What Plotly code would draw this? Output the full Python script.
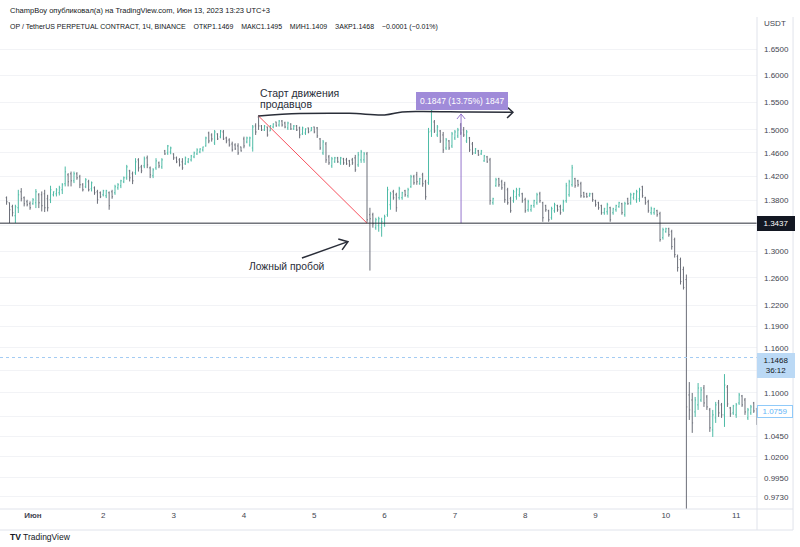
import math
import pandas as pd
import plotly.graph_objects as go

# ---------------- data (hourly OHLC, OP/USDT perpetual, Binance) ----------------
BAR_START = "2023-05-31 15:00"

opens = [
1.3846,1.3764,1.3700,1.3555,1.3683,1.3943,1.3846,1.3780,1.3748,1.3748,
1.3764,1.3894,1.3894,1.3910,1.3829,1.3813,1.3894,1.3910,1.3927,1.3976,
1.4076,1.4225,1.4242,1.4125,1.4242,1.4192,1.4059,1.4026,1.4109,1.3993,
1.4009,1.3943,1.3927,1.3894,1.3878,1.3927,1.3943,1.3927,1.4009,1.4043,
1.4109,1.4175,1.4292,1.4242,1.4259,1.4478,1.4359,1.4376,1.4512,1.4342,
1.4209,1.4342,1.4427,1.4359,1.4632,1.4597,1.4614,1.4580,1.4512,1.4478,
1.4444,1.4410,1.4444,1.4478,1.4529,1.4580,1.4614,1.4649,1.4718,1.4945,
1.4910,1.4770,1.4928,1.4875,1.4963,1.4857,1.4822,1.4752,1.4735,1.4718,
1.4700,1.4840,1.4787,1.4735,1.4683,1.5069,1.5229,1.5069,1.4998,1.5051,
1.4980,1.5051,1.5140,1.5086,1.5157,1.5122,1.5034,1.5104,1.5016,1.5069,
1.5034,1.4928,1.4945,1.5034,1.4980,1.5051,1.5034,1.4840,1.4597,1.4752,
1.4529,1.4376,1.4444,1.4512,1.4427,1.4495,1.4478,1.4461,1.4478,1.4512,
1.4393,1.4478,1.4478,1.4580,1.3571,1.3571,1.3365,1.3396,1.3365,1.3428,
1.3571,1.3732,1.3943,1.3894,1.3846,1.3846,1.3960,1.3878,1.4026,1.4192,
1.4225,1.4076,1.4225,1.4109,1.4092,1.4980,1.5140,1.4910,1.4980,1.4910,
1.4683,1.4805,1.4718,1.4857,1.4893,1.5086,1.4998,1.4805,1.4857,1.4752,
1.4597,1.4632,1.4580,1.4461,1.4529,1.4478,1.3764,1.4043,1.4159,1.4109,
1.4059,1.3976,1.3829,1.3797,1.3862,1.3894,1.3910,1.3813,1.3651,1.3651,
1.3716,1.3764,1.3910,1.3764,1.3716,1.3635,1.3523,1.3635,1.3716,1.3700,
1.3651,1.3797,1.3894,1.4059,1.4159,1.4125,1.4076,1.3927,1.3910,1.3878,
1.3910,1.3797,1.3764,1.3716,1.3603,1.3619,1.3683,1.3603,1.3651,1.3700,
1.3748,1.3571,1.3829,1.3764,1.3846,1.3813,1.3829,1.4026,1.3846,1.3780,
1.3603,1.3603,1.3635,1.3587,1.3209,1.3302,1.3349,1.3302,1.3178,1.2918,
1.2872,1.2721,1.2572,1.0973,1.0908,1.0755,1.0845,1.0908,1.1063,1.0947,
1.0781,1.0530,1.0680,1.0870,1.0845,1.0718,1.1076,1.0806,1.0743,1.0718,
1.0870,1.0960,1.0908,1.0680,1.0743,1.0870,1.0794]

highs = [
1.3867,1.3769,1.3732,1.3732,1.3976,1.4004,1.3867,1.3813,1.3786,1.3840,
1.3988,1.3921,1.3949,1.3976,1.3894,1.4043,1.3949,1.4004,1.4043,1.4087,
1.4365,1.4253,1.4280,1.4280,1.4270,1.4225,1.4087,1.4170,1.4142,1.4114,
1.4032,1.3976,1.3949,1.3976,1.3976,1.3949,1.3976,1.4059,1.4087,1.4142,
1.4197,1.4393,1.4309,1.4280,1.4507,1.4507,1.4393,1.4535,1.4552,1.4365,
1.4337,1.4507,1.4450,1.4507,1.4649,1.4735,1.4706,1.4592,1.4535,1.4507,
1.4507,1.4535,1.4507,1.4563,1.4620,1.4677,1.4677,1.4706,1.4880,1.4968,
1.4939,1.4998,1.4939,1.4998,1.4998,1.4880,1.4851,1.4793,1.4764,1.4764,
1.4706,1.4880,1.4880,1.4880,1.5086,1.5116,1.5265,1.5086,1.5086,1.5057,
1.5086,1.5116,1.5145,1.5175,1.5175,1.5145,1.5145,1.5116,1.5086,1.5086,
1.5057,1.5057,1.5028,1.5040,1.5051,1.5057,1.5051,1.4857,1.4822,1.4787,
1.4563,1.4529,1.4529,1.4529,1.4529,1.4512,1.4512,1.4478,1.4512,1.4563,
1.4614,1.4649,1.4614,1.4614,1.3683,1.3603,1.3523,1.3539,1.3523,1.3571,
1.4026,1.3943,1.3976,1.3927,1.4026,1.3943,1.3976,1.4009,1.4225,1.4225,
1.4275,1.4175,1.4259,1.4142,1.5034,1.5506,1.5175,1.5086,1.4998,1.4963,
1.4857,1.4822,1.4963,1.4998,1.5034,1.5122,1.5051,1.4998,1.4875,1.4787,
1.4683,1.4649,1.4649,1.4563,1.4546,1.4512,1.3846,1.4175,1.4175,1.4142,
1.4109,1.4009,1.3862,1.3976,1.4009,1.4009,1.3927,1.3846,1.3813,1.3732,
1.3813,1.3927,1.3943,1.3780,1.3732,1.3651,1.3700,1.3764,1.3732,1.3732,
1.3813,1.4092,1.4142,1.4393,1.4175,1.4142,1.4109,1.3943,1.3927,1.3927,
1.3927,1.3813,1.3780,1.3732,1.3683,1.3764,1.3700,1.3683,1.3732,1.3780,
1.3764,1.3780,1.3846,1.3927,1.3927,1.3976,1.4009,1.4043,1.3862,1.3813,
1.3700,1.3683,1.3651,1.3619,1.3365,1.3365,1.3365,1.3333,1.3209,1.2948,
1.2902,1.2766,1.2647,1.1141,1.0999,1.0947,1.1128,1.1076,1.1102,1.0973,
1.0806,1.0781,1.0883,1.0908,1.0870,1.1246,1.1102,1.0819,1.0845,1.0870,
1.0999,1.0973,1.0934,1.0806,1.0845,1.0883,1.0806]

lows = [
1.3732,1.3439,1.3544,1.3439,1.3598,1.3786,1.3705,1.3705,1.3651,1.3732,
1.3678,1.3678,1.3624,1.3614,1.3624,1.3759,1.3867,1.3867,1.3883,1.3906,
1.4032,1.4032,1.4032,1.4087,1.4142,1.4004,1.3949,1.4004,1.3949,1.3949,
1.3894,1.3748,1.3840,1.3867,1.3840,1.3651,1.3829,1.3894,1.3976,1.4004,
1.4087,1.4142,1.4114,1.4070,1.4225,1.4280,1.4253,1.4337,1.4337,1.4170,
1.4170,1.4309,1.4337,1.4325,1.4563,1.4563,1.4574,1.4478,1.4422,1.4365,
1.4309,1.4393,1.4422,1.4450,1.4507,1.4563,1.4592,1.4620,1.4706,1.4764,
1.4793,1.4735,1.4822,1.4851,1.4822,1.4764,1.4706,1.4620,1.4649,1.4563,
1.4620,1.4677,1.4764,1.4706,1.4620,1.4910,1.4998,1.4980,1.4980,1.4880,
1.4980,1.5028,1.5057,1.5057,1.5057,1.5028,1.4998,1.4998,1.4998,1.4980,
1.4851,1.4910,1.4910,1.4939,1.4980,1.4939,1.4857,1.4649,1.4563,1.4427,
1.4393,1.4342,1.4427,1.4427,1.4393,1.4393,1.4393,1.4359,1.4393,1.4275,
1.4359,1.4427,1.4427,1.3443,1.2706,1.3365,1.3333,1.3302,1.3224,1.3380,
1.3539,1.3651,1.3813,1.3619,1.3813,1.3813,1.3862,1.3846,1.4009,1.4059,
1.4059,1.4059,1.4026,1.3813,1.4059,1.4875,1.4945,1.4875,1.4770,1.4597,
1.4649,1.4649,1.4683,1.4822,1.4857,1.4910,1.4875,1.4770,1.4614,1.4563,
1.4580,1.4546,1.4563,1.4444,1.4427,1.3732,1.3732,1.4026,1.4026,1.3976,
1.3764,1.3732,1.3603,1.3764,1.3813,1.3862,1.3764,1.3603,1.3619,1.3619,
1.3683,1.3732,1.3764,1.3459,1.3619,1.3459,1.3491,1.3603,1.3619,1.3571,
1.3619,1.3764,1.3862,1.4026,1.4009,1.4026,1.3846,1.3846,1.3846,1.3862,
1.3780,1.3700,1.3651,1.3571,1.3571,1.3571,1.3459,1.3571,1.3619,1.3683,
1.3571,1.3539,1.3732,1.3732,1.3813,1.3764,1.3780,1.3846,1.3732,1.3603,
1.3571,1.3571,1.3539,1.3147,1.3178,1.3286,1.3224,1.3024,1.2902,1.2691,
1.2499,1.2425,0.9550,1.0654,1.0493,1.0692,1.0781,1.0883,1.0819,1.0781,
1.0505,1.0443,1.0617,1.0692,1.0680,1.0567,1.0819,1.0692,1.0718,1.0680,
1.0845,1.0819,1.0718,1.0654,1.0718,1.0743,1.0592]

closes = [
1.3780,1.3651,1.3603,1.3700,1.3894,1.3829,1.3748,1.3732,1.3683,1.3813,
1.3943,1.3764,1.3716,1.3683,1.3683,1.3976,1.3943,1.3976,1.4009,1.4059,
1.4275,1.4109,1.4125,1.4242,1.4175,1.4059,1.3976,1.4142,1.3976,1.4092,
1.3927,1.3813,1.3862,1.3960,1.3960,1.3716,1.3862,1.4026,1.4059,1.4125,
1.4175,1.4359,1.4175,1.4125,1.4444,1.4342,1.4292,1.4495,1.4393,1.4225,
1.4309,1.4461,1.4376,1.4478,1.4580,1.4718,1.4683,1.4512,1.4444,1.4393,
1.4342,1.4512,1.4495,1.4546,1.4597,1.4649,1.4666,1.4700,1.4857,1.4805,
1.4840,1.4963,1.4840,1.4980,1.4840,1.4805,1.4735,1.4649,1.4666,1.4597,
1.4632,1.4718,1.4857,1.4857,1.5051,1.4963,1.5069,1.4998,1.5069,1.4910,
1.5069,1.5104,1.5069,1.5157,1.5086,1.5051,1.5122,1.5016,1.5069,1.4998,
1.4910,1.5034,1.5016,1.4963,1.5034,1.4963,1.4893,1.4683,1.4787,1.4478,
1.4427,1.4495,1.4512,1.4444,1.4512,1.4427,1.4410,1.4393,1.4427,1.4309,
1.4563,1.4614,1.4580,1.3491,1.3507,1.3428,1.3491,1.3507,1.3459,1.3539,
1.3976,1.3910,1.3846,1.3683,1.3993,1.3927,1.3894,1.3976,1.4192,1.4092,
1.4109,1.4159,1.4076,1.3862,1.4963,1.5355,1.4980,1.5051,1.4805,1.4649,
1.4822,1.4683,1.4928,1.4963,1.4998,1.4945,1.4910,1.4963,1.4649,1.4597,
1.4666,1.4563,1.4632,1.4546,1.4444,1.3797,1.3829,1.4142,1.4059,1.4009,
1.3813,1.3764,1.3635,1.3943,1.3976,1.3993,1.3797,1.3635,1.3780,1.3716,
1.3797,1.3894,1.3797,1.3523,1.3651,1.3491,1.3667,1.3732,1.3651,1.3603,
1.3780,1.4043,1.4109,1.4342,1.4043,1.4059,1.3878,1.3862,1.3862,1.3910,
1.3813,1.3732,1.3683,1.3603,1.3667,1.3732,1.3491,1.3667,1.3716,1.3764,
1.3603,1.3748,1.3748,1.3894,1.3910,1.3943,1.3976,1.3878,1.3764,1.3635,
1.3667,1.3667,1.3571,1.3178,1.3333,1.3349,1.3255,1.3070,1.2948,1.2751,
1.2543,1.2454,1.0819,1.0781,1.0617,1.0908,1.1063,1.1037,1.0870,1.0819,
1.0555,1.0718,1.0845,1.0743,1.0718,1.1102,1.0857,1.0730,1.0832,1.0845,
1.0973,1.0845,1.0755,1.0781,1.0819,1.0768,1.0654]

price_ticks = [0.973, 0.995, 1.02, 1.045, 1.07, 1.10, 1.13, 1.16, 1.19, 1.22,
               1.26, 1.30, 1.34, 1.38, 1.42, 1.46, 1.50, 1.55, 1.60, 1.65]
hidden_ticks = [1.07, 1.13, 1.34]   # covered by the price labels in the original
day_ticks = ["2023-06-01", "2023-06-02", "2023-06-03", "2023-06-04", "2023-06-05",
             "2023-06-06", "2023-06-07", "2023-06-08", "2023-06-09", "2023-06-10",
             "2023-06-11"]
day_labels = ["<b>Июн</b>", "2", "3", "4", "5", "6", "7", "8", "9", "10", "11"]

level_price = 1.3437        # horizontal level
last_price = 1.1468         # current price label
last_timer = "36:12"
mark_price = 1.0759         # outlined price label
measure_high = 1.5284       # top of the price-range measurement (+0.1847)
measure_text = "0.1847 (13.75%) 1847"

# drawings (time, price) anchors
red_line_t = ["2023-06-04 05:00", "2023-06-05 18:00"]
red_line_p = [1.5246, 1.3437]
wave_t = ["2023-06-04 05:00", "2023-06-04 19:00", "2023-06-05 12:00", "2023-06-06 00:00",
          "2023-06-06 06:00", "2023-06-06 12:00", "2023-06-07 05:00", "2023-06-07 19:48"]
wave_p = [1.5246, 1.5290, 1.5295, 1.5265, 1.5320, 1.5330, 1.5320, 1.5315]
wave_head_t = ["2023-06-07 17:48", "2023-06-07 19:48", "2023-06-07 17:48"]
wave_head_p = [1.5409, 1.5315, 1.5211]
false_arrow_t = ["2023-06-04 19:48", "2023-06-05 11:30"]
false_arrow_p = [1.2895, 1.3147]
false_head_t = ["2023-06-05 08:12", "2023-06-05 11:30", "2023-06-05 09:30"]
false_head_p = [1.3189, 1.3147, 1.3020]
measure_t = "2023-06-07 02:06"
measure_head_t = ["2023-06-07 00:42", "2023-06-07 02:06", "2023-06-07 03:30"]
measure_head_p = [1.5193, 1.5284, 1.5193]

# ---------------- figure ----------------
FONT = "Liberation Sans, Arial, sans-serif"
UP = "#4dbba6"
DOWN = "#6b6e78"
TXT = "#434651"
NB = "\u00a0"

n = min(len(opens), len(highs), len(lows), len(closes))
times = pd.date_range(BAR_START, periods=n, freq="h")

fig = go.Figure()
fig.add_trace(go.Ohlc(
    x=times, open=opens[:n], high=highs[:n], low=lows[:n], close=closes[:n],
    increasing=dict(line=dict(color=UP, width=1)),
    decreasing=dict(line=dict(color=DOWN, width=1)),
    tickwidth=0.3, hoverinfo="skip", showlegend=False))

def line_trace(xs, ys, color, width, shape="linear", dash="solid"):
    fig.add_trace(go.Scatter(x=xs, y=ys, mode="lines",
                             line=dict(color=color, width=width, shape=shape, dash=dash),
                             hoverinfo="skip", showlegend=False))

# red trend line
line_trace(red_line_t, red_line_p, "#f7525f", 1)
# wavy arrow
fig.add_trace(go.Scatter(x=wave_t, y=wave_p, mode="lines",
                         line=dict(color="#2a2e39", width=1.5, shape="spline", smoothing=1.0),
                         hoverinfo="skip", showlegend=False))
line_trace(wave_head_t, wave_head_p, "#2a2e39", 1.5)
# false break arrow
line_trace(false_arrow_t, false_arrow_p, "#2a2e39", 1.5)
line_trace(false_head_t, false_head_p, "#2a2e39", 1.5)
# measurement
line_trace([measure_t, measure_t], [level_price, measure_high], "#9575cd", 1)
line_trace(measure_head_t, measure_head_p, "#9575cd", 1)

lg = math.log10
y_lo, y_hi = 0.9592, 1.7135

shapes = [
    dict(type="line", xref="paper", yref="y", x0=0, x1=1, y0=level_price, y1=level_price,
         line=dict(color="#2a2e39", width=1)),
    dict(type="line", xref="paper", yref="y", x0=0, x1=1, y0=last_price, y1=last_price,
         line=dict(color="#a3ccf3", width=1, dash="dot")),
    # pane borders
    dict(type="line", xref="paper", yref="paper", x0=1, x1=1, y0=-0.0427, y1=1.0,
         line=dict(color="#e0e3eb", width=1)),
    dict(type="line", xref="paper", yref="paper", x0=1.0476, x1=1.0476, y0=-0.0427, y1=1.0,
         line=dict(color="#e0e3eb", width=1)),
    dict(type="line", xref="paper", yref="paper", x0=0, x1=1.0476, y0=0, y1=0,
         line=dict(color="#e0e3eb", width=1)),
    dict(type="line", xref="paper", yref="paper", x0=0, x1=1.0476, y0=-0.0427, y1=-0.0427,
         line=dict(color="#e0e3eb", width=1)),
]

header2 = ("OP / TetherUS PERPETUAL CONTRACT, 1Ч, BINANCE" + NB * 4 + "ОТКР1.1469" + NB * 4 +
           "МАКС1.1495" + NB * 4 + "МИН1.1409" + NB * 4 + "ЗАКР1.1468" + NB * 4 + "−0.0001 (−0.01%)")

ann = []
ann.append(dict(xref="paper", yref="paper", x=0.0106, y=1.0142, xanchor="left", yanchor="middle",
                text="ChampBoy опубликовал(а) на TradingView.com, Июн 13, 2023 13:23 UTC+3",
                showarrow=False, font=dict(family=FONT, size=7.5, color="#131722")))
ann.append(dict(xref="paper", yref="paper", x=0.0106, y=0.9797, xanchor="left", yanchor="middle",
                text=header2, showarrow=False, font=dict(family=FONT, size=7, color="#131722")))
ann.append(dict(xref="paper", yref="paper", x=1, y=0.9858, xanchor="left", yanchor="middle",
                xshift=5, text="USDT", showarrow=False, font=dict(family=FONT, size=8, color=TXT)))
ann.append(dict(xref="paper", yref="paper", x=0.0106, y=-0.0569, xanchor="left", yanchor="middle",
                text="<b>TV</b> TradingView", showarrow=False,
                font=dict(family=FONT, size=8.5, color="#131722")))
# drawing texts
ann.append(dict(xref="x", yref="y", x="2023-06-04 04:48", y=lg(1.5666), xanchor="left", yanchor="middle",
                text="Старт движения", showarrow=False, font=dict(family=FONT, size=10.5, color="#2a2e39")))
ann.append(dict(xref="x", yref="y", x="2023-06-04 04:48", y=lg(1.5464), xanchor="left", yanchor="middle",
                text="продавцов", showarrow=False, font=dict(family=FONT, size=10.5, color="#2a2e39")))
ann.append(dict(xref="x", yref="y", x="2023-06-04 14:42", y=lg(1.2760), xanchor="center", yanchor="middle",
                text="Ложный пробой", showarrow=False, font=dict(family=FONT, size=10.3, color="#2a2e39")))
ann.append(dict(xref="x", yref="y", x="2023-06-07 02:24", y=lg(1.5518), xanchor="center", yanchor="middle",
                text=measure_text, showarrow=False, bgcolor="#a08bd9", bordercolor="#a08bd9",
                borderpad=3, font=dict(family=FONT, size=8.5, color="white")))
# price-scale labels
ann.append(dict(xref="paper", yref="y", x=1, y=lg(level_price), xanchor="left", yanchor="middle",
                text=f"{level_price:.4f}", showarrow=False, bgcolor="#131722", bordercolor="#131722",
                borderpad=2, width=32, align="center", font=dict(family=FONT, size=8, color="white")))
ann.append(dict(xref="paper", yref="y", x=1, y=lg(last_price), xanchor="left", yanchor="top",
                yshift=5, text=f"{last_price:.4f}<br>{last_timer}", showarrow=False,
                bgcolor="#bbd9f5", bordercolor="#bbd9f5", borderpad=2, width=32, align="center",
                font=dict(family=FONT, size=8, color="#131722")))
ann.append(dict(xref="paper", yref="y", x=1, y=lg(mark_price), xanchor="left", yanchor="middle",
                text=f"{mark_price:.4f}", showarrow=False, bgcolor="white", bordercolor="#90caf9",
                borderpad=1, width=32, align="center", font=dict(family=FONT, size=8, color="#64b5f6")))

tick_text = ["" if v in hidden_ticks else f"{v:.4f}" for v in price_ticks]

fig.update_layout(
    width=800, height=547,
    margin=dict(l=0, r=43, t=17, b=38, pad=0),
    paper_bgcolor="white", plot_bgcolor="white",
    font=dict(family=FONT, size=8, color=TXT),
    showlegend=False,
    shapes=shapes, annotations=ann,
    xaxis=dict(type="date", range=["2023-05-31 12:45", "2023-06-11 07:06"],
               tickvals=day_ticks, ticktext=day_labels, tickangle=0,
               showgrid=False, zeroline=False, showline=False, ticks="",
               tickfont=dict(family=FONT, size=8, color=TXT),
               rangeslider=dict(visible=False), fixedrange=True, automargin=False),
    yaxis=dict(type="log", range=[lg(y_lo), lg(y_hi)], side="right",
               tickvals=price_ticks, ticktext=tick_text,
               showgrid=True, gridcolor="#f2f3f6", gridwidth=1, zeroline=False,
               showline=False, ticks="", ticklabelstandoff=6,
               tickfont=dict(family=FONT, size=8, color=TXT),
               fixedrange=True, automargin=False),
)

fig.write_html("out.html")
